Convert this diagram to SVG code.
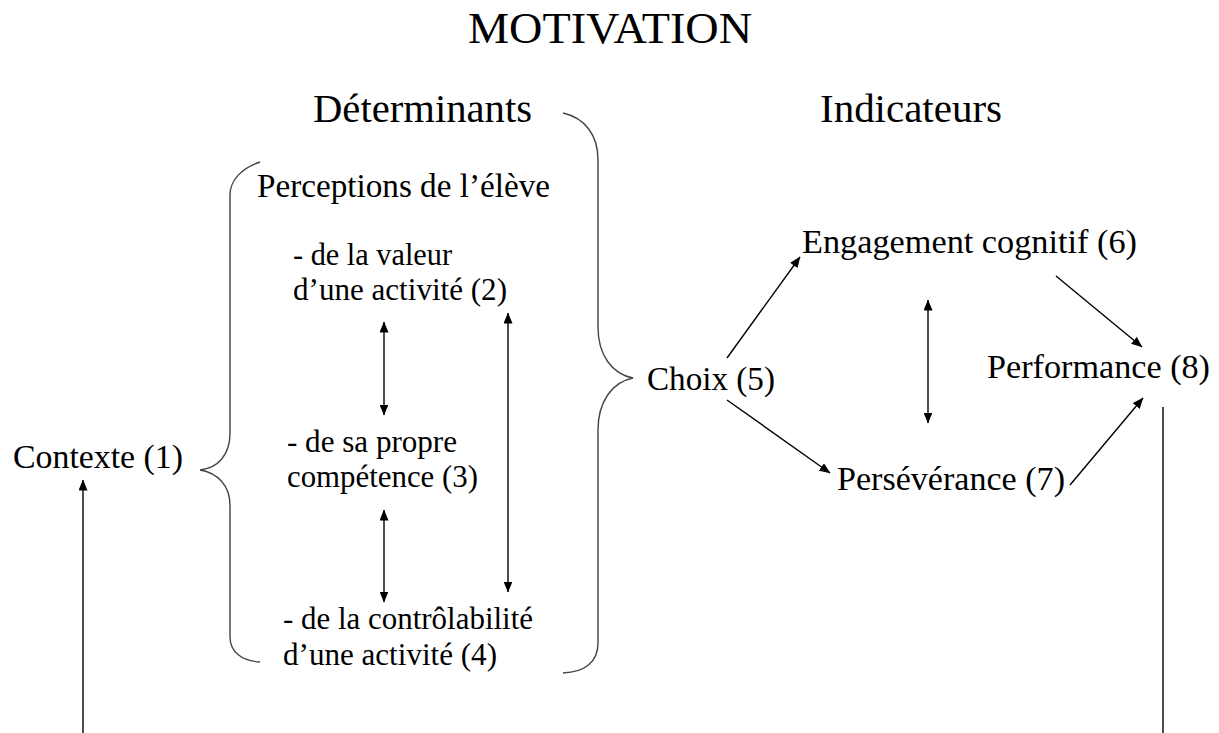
<svg xmlns="http://www.w3.org/2000/svg" width="1219" height="733" viewBox="0 0 1219 733">
<defs>
<marker id="ah" markerUnits="userSpaceOnUse" markerWidth="11" markerHeight="9" viewBox="0 0 11 9" refX="10.5" refY="4.5" orient="auto-start-reverse">
<path d="M0,0 L11,4.5 L0,9 z" fill="#000"/>
</marker>
<style>
.t{font-size:44px}
.h{font-size:40px}
.p{font-size:33px}
.i{font-size:31px}
.n{font-size:34px}
.brace{fill:none;stroke:#444;stroke-width:1.4}
.c{stroke:#000;stroke-width:1.4;fill:none}
.a{marker-end:url(#ah)}
.d{marker-start:url(#ah);marker-end:url(#ah)}
</style>
</defs>
<rect width="1219" height="733" fill="#fff"/>
<g font-family="Liberation Serif, DejaVu Serif, serif" fill="#000">
<g id="title"><text class="t" x="468" y="43" textLength="284" lengthAdjust="spacingAndGlyphs">MOTIVATION</text></g>
<g id="determinants"><text class="h" x="313" y="122" textLength="219" lengthAdjust="spacingAndGlyphs">Déterminants</text></g>
<g id="indicateurs"><text class="h" x="820" y="122" textLength="182" lengthAdjust="spacingAndGlyphs">Indicateurs</text></g>
<g id="perceptions"><text class="p" x="257" y="197" textLength="293" lengthAdjust="spacingAndGlyphs">Perceptions de l’élève</text></g>
<g id="n2">
<text class="i" x="293" y="265" textLength="159" lengthAdjust="spacingAndGlyphs">- de la valeur</text>
<text class="i" x="293" y="300" textLength="214" lengthAdjust="spacingAndGlyphs">d’une activité (2)</text>
</g>
<g id="n3">
<text class="i" x="287" y="452" textLength="170" lengthAdjust="spacingAndGlyphs">- de sa propre</text>
<text class="i" x="287" y="487" textLength="191" lengthAdjust="spacingAndGlyphs">compétence (3)</text>
</g>
<g id="n4">
<text class="i" x="283" y="629" textLength="250" lengthAdjust="spacingAndGlyphs">- de la contrôlabilité</text>
<text class="i" x="283" y="665" textLength="214" lengthAdjust="spacingAndGlyphs">d’une activité (4)</text>
</g>
<g id="n1"><text class="n" x="13" y="468" textLength="170" lengthAdjust="spacingAndGlyphs">Contexte (1)</text></g>
<g id="n5"><text class="n" x="647" y="390" textLength="128" lengthAdjust="spacingAndGlyphs">Choix (5)</text></g>
<g id="n6"><text class="n" x="802" y="253" textLength="335" lengthAdjust="spacingAndGlyphs">Engagement cognitif (6)</text></g>
<g id="n7"><text class="n" x="837" y="490" textLength="228" lengthAdjust="spacingAndGlyphs">Persévérance (7)</text></g>
<g id="n8"><text class="n" x="987" y="378" textLength="223" lengthAdjust="spacingAndGlyphs">Performance (8)</text></g>
</g>
<g id="braces">
<path class="brace" d="M563,113 C585,118 598,135 598,160 L598,327 C598,355 612,374 633,378 C612,382 598,402 598,430 L598,643 C598,662 585,672 563,673"/>
<path class="brace" d="M260,162 C242,168 230,180 230,195 L230,433 C230,455 218,468 200,470 C218,473 230,486 230,505 L230,637 C230,652 242,661 260,662"/>
</g>
<g id="connectors">
<line class="c d" x1="384" y1="322" x2="384" y2="415"/>
<line class="c d" x1="384" y1="510" x2="384" y2="602"/>
<line class="c d" x1="508" y1="313" x2="508" y2="592"/>
<line class="c d" x1="928" y1="300" x2="928" y2="423"/>
<line class="c a" x1="727" y1="358" x2="800" y2="257"/>
<line class="c a" x1="727" y1="400" x2="830" y2="473"/>
<line class="c a" x1="1056" y1="276" x2="1142" y2="347"/>
<line class="c a" x1="1070" y1="485" x2="1143" y2="398"/>
<line class="c a" x1="83" y1="733" x2="83" y2="480"/>
<line class="c" x1="1163" y1="407" x2="1163" y2="733"/>
</g>
</svg>
